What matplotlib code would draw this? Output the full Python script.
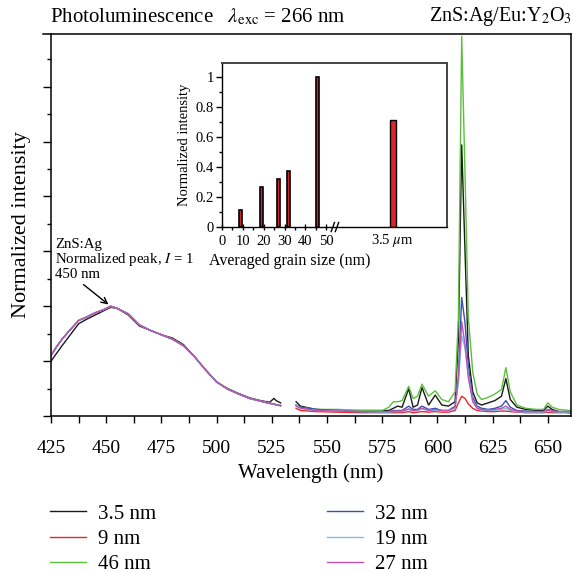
import numpy as np
import matplotlib
matplotlib.use('Agg')
import matplotlib.pyplot as plt
from matplotlib.lines import Line2D
from matplotlib.ticker import MultipleLocator, NullFormatter

plt.rcParams['font.family'] = ['Liberation Serif', 'DejaVu Serif']
plt.rcParams['mathtext.fontset'] = 'stix'

# ZnS:Ag band (450 nm), same for all samples except the micron powder
band_wl = [425, 427.5, 430, 433, 437.5, 441, 445, 449, 452, 455, 460, 465, 470,
           475, 480, 485, 490, 495, 500, 505, 510, 515, 520, 524, 526, 527, 529]
band_i = [0.55, 0.63, 0.70, 0.77, 0.87, 0.90, 0.94, 0.97, 1.0, 0.98, 0.93, 0.83, 0.78,
          0.74, 0.70, 0.64, 0.54, 0.42, 0.31, 0.245, 0.20, 0.16, 0.135, 0.115, 0.11, 0.10, 0.095]
band_i_35 = [0.50, 0.57, 0.64, 0.72, 0.84, 0.88, 0.92, 0.96, 0.99, 0.98, 0.92, 0.82, 0.78,
             0.74, 0.71, 0.65, 0.54, 0.42, 0.31, 0.25, 0.205, 0.165, 0.14, 0.125, 0.16, 0.14, 0.12]

# Eu:Y2O3 lines
eu_wl = [536, 538, 545, 555, 565, 575, 578, 580, 582, 584, 587, 589, 591, 593, 596, 599,
         602, 605, 608, 609.5, 611, 612.5, 614, 616, 618, 620, 623, 626, 629, 631, 633,
         636, 640, 645, 648, 650, 652, 655, 660]
eu_35 = [0.13, 0.09, 0.06, 0.05, 0.05, 0.05, 0.05, 0.07, 0.09, 0.08, 0.25, 0.08, 0.10, 0.26,
         0.10, 0.19, 0.10, 0.09, 0.13, 0.7, 2.47, 1.5, 0.55, 0.22, 0.12, 0.10, 0.12, 0.14,
         0.18, 0.34, 0.15, 0.08, 0.06, 0.05, 0.05, 0.09, 0.06, 0.04, 0.03]
eu_9 = [0.07, 0.05, 0.04, 0.035, 0.03, 0.03, 0.03, 0.03, 0.03, 0.03, 0.04, 0.03, 0.035, 0.04,
        0.035, 0.04, 0.035, 0.035, 0.05, 0.12, 0.18, 0.16, 0.11, 0.07, 0.05, 0.045, 0.04, 0.04,
        0.045, 0.045, 0.04, 0.035, 0.03, 0.03, 0.03, 0.035, 0.03, 0.03, 0.03]
eu_46 = [0.10, 0.08, 0.06, 0.06, 0.05, 0.05, 0.08, 0.13, 0.13, 0.14, 0.27, 0.16, 0.18, 0.29,
         0.18, 0.23, 0.15, 0.13, 0.22, 0.9, 3.46, 2.2, 0.9, 0.40, 0.20, 0.15, 0.17, 0.20,
         0.24, 0.44, 0.22, 0.10, 0.07, 0.06, 0.06, 0.12, 0.08, 0.06, 0.05]
eu_32 = [0.10, 0.08, 0.06, 0.05, 0.04, 0.04, 0.04, 0.05, 0.05, 0.05, 0.09, 0.06, 0.06, 0.09,
         0.06, 0.07, 0.05, 0.05, 0.09, 0.35, 1.08, 0.85, 0.45, 0.17, 0.09, 0.07, 0.06, 0.07,
         0.09, 0.14, 0.08, 0.05, 0.045, 0.04, 0.04, 0.06, 0.05, 0.04, 0.04]
eu_19 = [0.10, 0.07, 0.05, 0.045, 0.04, 0.035, 0.035, 0.04, 0.04, 0.04, 0.06, 0.045, 0.05, 0.065,
         0.05, 0.05, 0.045, 0.045, 0.07, 0.3, 0.73, 0.62, 0.38, 0.14, 0.07, 0.055, 0.05, 0.05,
         0.06, 0.07, 0.05, 0.04, 0.035, 0.035, 0.035, 0.045, 0.04, 0.035, 0.035]
eu_27 = [0.09, 0.07, 0.05, 0.045, 0.04, 0.04, 0.04, 0.045, 0.045, 0.045, 0.065, 0.05, 0.055, 0.07,
         0.05, 0.06, 0.05, 0.05, 0.08, 0.35, 0.86, 0.65, 0.35, 0.13, 0.07, 0.06, 0.055, 0.06,
         0.07, 0.09, 0.06, 0.045, 0.04, 0.04, 0.04, 0.055, 0.045, 0.04, 0.04]

labels = ['3.5 nm', '9 nm', '46 nm', '32 nm', '19 nm', '27 nm']
colors = ['#1a1a1a', '#e8262c', '#5cbf3c', '#3b4fae', '#72c6e2', '#c050b4']
eu_series = [eu_35, eu_9, eu_46, eu_32, eu_19, eu_27]
band_series = [band_i_35, band_i, band_i, band_i, band_i, band_i]

# inset: peak intensity vs grain size
grain_nm = [9, 19, 27, 32, 46]
grain_int = [0.115, 0.265, 0.32, 0.37, 1.0]
micron_int = 0.71
micron_label = r'3.5 $\mu$m'
MICRON_POS = 82

fig = plt.figure(figsize=(5.74, 5.73), dpi=100)
ax = fig.add_axes([51/574, 1-416/573, 520/574, 382/573])

for lab, col, b, e in zip(labels, colors, band_series, eu_series):
    wl = band_wl + [532] + eu_wl
    y = b + [np.nan] + e
    ax.plot(wl, y, color=col, lw=1.0, label=lab)

ax.set_xlim(425, 660.5)
ax.set_ylim(0, 3.48)
ax.xaxis.set_major_locator(MultipleLocator(25))
ax.xaxis.set_minor_locator(MultipleLocator(12.5))
ax.yaxis.set_major_locator(MultipleLocator(0.5))
ax.yaxis.set_minor_locator(MultipleLocator(0.25))
ax.yaxis.set_major_formatter(NullFormatter())
ax.tick_params(axis='x', which='both', direction='out', length=5, width=1, labelsize=14, pad=12)
ax.tick_params(axis='y', which='major', direction='out', length=6, width=1)
ax.tick_params(axis='y', which='minor', direction='out', length=3, width=1)
for s in ax.spines.values():
    s.set_linewidth(1.1)
ax.set_xlabel('Wavelength (nm)', fontsize=15, labelpad=5)
ax.set_ylabel('Normalized intensity', fontsize=16, labelpad=5)

# top rule sticks out past the left spine
fig.add_artist(Line2D([43/574, 51/574], [1-34/573, 1-34/573], color='black', lw=1.1))

fig.text(50/574, 1-17/573, r'Photoluminescence   $\lambda_{\rm exc}$ = 266 nm',
         fontsize=15, ha='left', va='center')
fig.text(572/574, 1-17/573, r'ZnS:Ag/Eu:Y$_2$O$_3$', fontsize=14.5, ha='right', va='center')

ax.annotate('ZnS:Ag\nNormalized peak, $I$ = 1\n450 nm', xy=(452, 1.0), xytext=(427, 1.23),
            fontsize=10.7, ha='left', va='bottom', linespacing=1.0,
            arrowprops=dict(arrowstyle='->', color='black', lw=1.0, shrinkA=1, shrinkB=2,
                            relpos=(0.17, 0.0)))

leg = ax.legend(loc='upper left', bbox_to_anchor=(50/574, 1-504/573), bbox_transform=fig.transFigure,
                ncol=2, frameon=False, fontsize=15, handlelength=1.75, columnspacing=8.2,
                labelspacing=0.28, handletextpad=0.55, borderpad=0, borderaxespad=0)

# inset
ins = fig.add_axes([222/574, 1-227/573, 225/574, 164/573])
ins.bar(grain_nm, grain_int, width=1.3, color='#d8232a', edgecolor='black', lw=1.2)
ins.bar([MICRON_POS], [micron_int], width=2.8, color='#e0242a', edgecolor='black', lw=1.0)
ins.set_xlim(0, 108)
ins.set_ylim(0, 1.09)
ins.set_xticks([0, 10, 20, 30, 40, 50])
ins.set_xticks([5, 15, 25, 35, 45], minor=True)
ins.set_yticks([0, 0.2, 0.4, 0.6, 0.8, 1.0])
ins.set_yticklabels(['0', '0.2', '0.4', '0.6', '0.8', '1'])
ins.yaxis.set_minor_locator(MultipleLocator(0.1))
ins.tick_params(axis='x', which='major', direction='inout', length=5, width=1, labelsize=10.5, pad=3)
ins.tick_params(axis='x', which='minor', direction='out', length=2.5, width=1)
ins.tick_params(axis='y', which='major', direction='out', length=4, width=1, labelsize=10.5, pad=2)
ins.tick_params(axis='y', which='minor', direction='out', length=2, width=1)
ins.text(MICRON_POS, -0.035, micron_label, fontsize=10.5, ha='center', va='top')
ins.set_xlabel('Averaged grain size (nm)', fontsize=11.5)
ins.xaxis.set_label_coords(0.30, -0.16)
ins.set_ylabel('Normalized intensity', fontsize=10.5, labelpad=3)
for side in ['top', 'right']:
    ins.spines[side].set_color('#444444')
    ins.spines[side].set_linewidth(1.4)
for side in ['left', 'bottom']:
    ins.spines[side].set_linewidth(1.0)
# axis break marks
for x0 in [53.2, 55.2]:
    ins.plot([x0 - 0.8, x0 + 0.8], [-0.03, 0.03], color='black', lw=1.0, clip_on=False)

fig.savefig('out.png', dpi=100)
